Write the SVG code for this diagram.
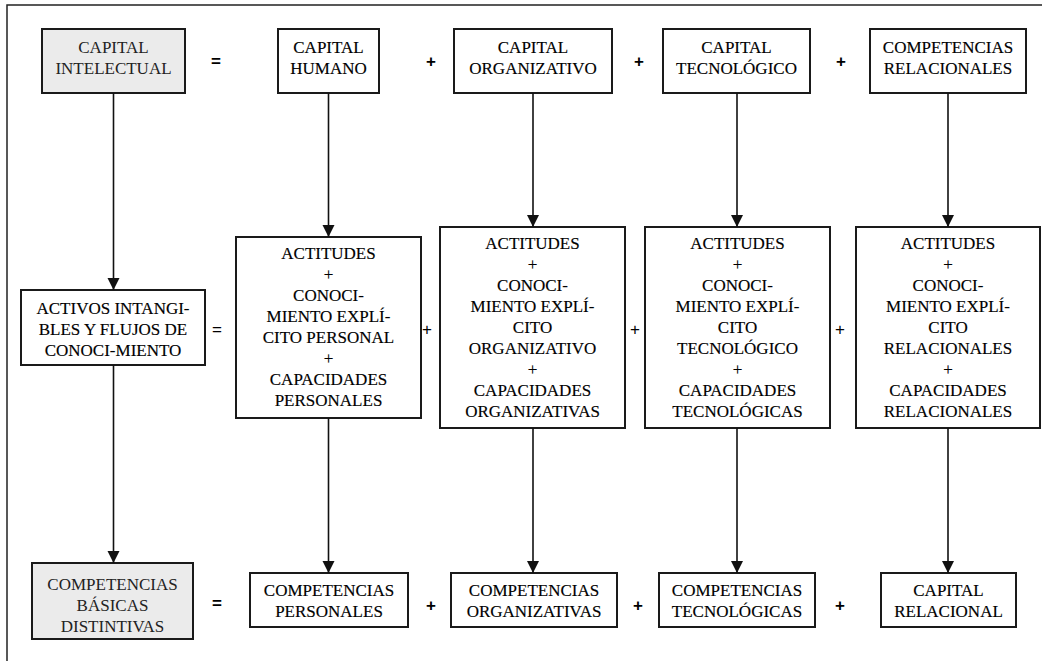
<svg xmlns="http://www.w3.org/2000/svg" width="1042" height="661" viewBox="0 0 1042 661">
  <style>
    .box { fill: #ffffff; stroke: #1a1a1a; stroke-width: 2; }
    .grey { fill: #ebebeb; }
    .lbl { font-family: "Liberation Serif", "Times New Roman", serif; font-size: 17px; fill: #000; stroke: #000; stroke-width: 0.15; text-anchor: middle; }
    .grey-lbl { fill: #222; stroke: none; }
    .op { font-family: "Liberation Sans", Arial, sans-serif; font-size: 17px; fill: #000; text-anchor: middle; }
    .op-b { font-weight: bold; }
    .wire { stroke: #111; stroke-width: 1.6; fill: none; }
    .frame { stroke: #222; stroke-width: 1.5; fill: none; }
  </style>
  <defs>
    <marker id="arrow" markerUnits="userSpaceOnUse" markerWidth="12" markerHeight="13" refX="12" refY="6" orient="auto">
      <path d="M0,0 L12,6 L0,12 Z" fill="#111"/>
    </marker>
  </defs>

  <rect width="1042" height="661" fill="#ffffff"/>
  <!-- open page frame: top and left edges only -->
  <path class="frame" d="M1042,5 H7 V661"/>

  <!-- top row -->
  <g id="capital-intelectual">
    <rect class="box grey" x="42" y="29" width="143" height="64"/>
    <text class="lbl grey-lbl" x="113.5" y="53">CAPITAL<tspan x="113.5" dy="21">INTELECTUAL</tspan></text>
  </g>
  <g id="capital-humano">
    <rect class="box" x="278" y="29" width="101" height="64"/>
    <text class="lbl" x="328.5" y="53">CAPITAL<tspan x="328.5" dy="21">HUMANO</tspan></text>
  </g>
  <g id="capital-organizativo">
    <rect class="box" x="454" y="29" width="158" height="64"/>
    <text class="lbl" x="533" y="53">CAPITAL<tspan x="533" dy="21">ORGANIZATIVO</tspan></text>
  </g>
  <g id="capital-tecnologico">
    <rect class="box" x="663" y="29" width="147" height="64"/>
    <text class="lbl" x="736.5" y="53">CAPITAL<tspan x="736.5" dy="21">TECNOLÓGICO</tspan></text>
  </g>
  <g id="competencias-relacionales">
    <rect class="box" x="870" y="29" width="156" height="64"/>
    <text class="lbl" x="948" y="53">COMPETENCIAS<tspan x="948" dy="21">RELACIONALES</tspan></text>
  </g>
  <g id="ops-top">
    <text class="op op-b" x="216" y="67">=</text>
    <text class="op op-b" x="431" y="67">+</text>
    <text class="op op-b" x="639" y="67">+</text>
    <text class="op op-b" x="841" y="67">+</text>
  </g>

  <!-- middle row -->
  <g id="activos-intangibles">
    <rect class="box" x="21" y="290" width="184" height="75"/>
    <text class="lbl" x="113" y="314">ACTIVOS INTANGI-<tspan x="113" dy="21">BLES Y FLUJOS DE</tspan><tspan x="113" dy="21">CONOCI-MIENTO</tspan></text>
  </g>
  <g id="flujo-personal">
    <rect class="box" x="236" y="237" width="185" height="181"/>
    <text class="lbl" x="328.5" y="259">ACTITUDES<tspan x="328.5" dy="21">+</tspan><tspan x="328.5" dy="21">CONOCI-</tspan><tspan x="328.5" dy="21">MIENTO EXPLÍ-</tspan><tspan x="328.5" dy="21">CITO PERSONAL</tspan><tspan x="328.5" dy="21">+</tspan><tspan x="328.5" dy="21">CAPACIDADES</tspan><tspan x="328.5" dy="21">PERSONALES</tspan></text>
  </g>
  <g id="flujo-organizativo">
    <rect class="box" x="440" y="227" width="185" height="201"/>
    <text class="lbl" x="532.5" y="249">ACTITUDES<tspan x="532.5" dy="21">+</tspan><tspan x="532.5" dy="21">CONOCI-</tspan><tspan x="532.5" dy="21">MIENTO EXPLÍ-</tspan><tspan x="532.5" dy="21">CITO</tspan><tspan x="532.5" dy="21">ORGANIZATIVO</tspan><tspan x="532.5" dy="21">+</tspan><tspan x="532.5" dy="21">CAPACIDADES</tspan><tspan x="532.5" dy="21">ORGANIZATIVAS</tspan></text>
  </g>
  <g id="flujo-tecnologico">
    <rect class="box" x="645" y="227" width="185" height="201"/>
    <text class="lbl" x="737.5" y="249">ACTITUDES<tspan x="737.5" dy="21">+</tspan><tspan x="737.5" dy="21">CONOCI-</tspan><tspan x="737.5" dy="21">MIENTO EXPLÍ-</tspan><tspan x="737.5" dy="21">CITO</tspan><tspan x="737.5" dy="21">TECNOLÓGICO</tspan><tspan x="737.5" dy="21">+</tspan><tspan x="737.5" dy="21">CAPACIDADES</tspan><tspan x="737.5" dy="21">TECNOLÓGICAS</tspan></text>
  </g>
  <g id="flujo-relacional">
    <rect class="box" x="856" y="227" width="184" height="201"/>
    <text class="lbl" x="948" y="249">ACTITUDES<tspan x="948" dy="21">+</tspan><tspan x="948" dy="21">CONOCI-</tspan><tspan x="948" dy="21">MIENTO EXPLÍ-</tspan><tspan x="948" dy="21">CITO</tspan><tspan x="948" dy="21">RELACIONALES</tspan><tspan x="948" dy="21">+</tspan><tspan x="948" dy="21">CAPACIDADES</tspan><tspan x="948" dy="21">RELACIONALES</tspan></text>
  </g>
  <g id="ops-middle">
    <text class="op" x="217" y="335">=</text>
    <text class="op" x="427" y="335">+</text>
    <text class="op" x="635" y="335">+</text>
    <text class="op" x="840" y="335">+</text>
  </g>

  <!-- bottom row -->
  <g id="competencias-basicas">
    <rect class="box grey" x="32" y="563" width="161" height="76"/>
    <text class="lbl grey-lbl" x="112.5" y="590">COMPETENCIAS<tspan x="112.5" dy="21">BÁSICAS</tspan><tspan x="112.5" dy="21">DISTINTIVAS</tspan></text>
  </g>
  <g id="competencias-personales">
    <rect class="box" x="250" y="573" width="158" height="54"/>
    <text class="lbl" x="329" y="596">COMPETENCIAS<tspan x="329" dy="21">PERSONALES</tspan></text>
  </g>
  <g id="competencias-organizativas">
    <rect class="box" x="451" y="573" width="166" height="54"/>
    <text class="lbl" x="534" y="596">COMPETENCIAS<tspan x="534" dy="21">ORGANIZATIVAS</tspan></text>
  </g>
  <g id="competencias-tecnologicas">
    <rect class="box" x="659" y="573" width="156" height="54"/>
    <text class="lbl" x="737" y="596">COMPETENCIAS<tspan x="737" dy="21">TECNOLÓGICAS</tspan></text>
  </g>
  <g id="capital-relacional">
    <rect class="box" x="881" y="573" width="135" height="54"/>
    <text class="lbl" x="948.5" y="596">CAPITAL<tspan x="948.5" dy="21">RELACIONAL</tspan></text>
  </g>
  <g id="ops-bottom">
    <text class="op op-b" x="217" y="609">=</text>
    <text class="op op-b" x="431" y="611">+</text>
    <text class="op op-b" x="638" y="611">+</text>
    <text class="op op-b" x="840" y="611">+</text>
  </g>

  <!-- connectors -->
  <g id="connectors">
    <line class="wire" x1="113.5" y1="93" x2="113.5" y2="290" marker-end="url(#arrow)"/>
    <line class="wire" x1="328.5" y1="93" x2="328.5" y2="237" marker-end="url(#arrow)"/>
    <line class="wire" x1="533" y1="93" x2="533" y2="227" marker-end="url(#arrow)"/>
    <line class="wire" x1="737" y1="93" x2="737" y2="227" marker-end="url(#arrow)"/>
    <line class="wire" x1="948" y1="93" x2="948" y2="227" marker-end="url(#arrow)"/>
    <line class="wire" x1="113.5" y1="365" x2="113.5" y2="563" marker-end="url(#arrow)"/>
    <line class="wire" x1="328.5" y1="418" x2="328.5" y2="573" marker-end="url(#arrow)"/>
    <line class="wire" x1="533" y1="428" x2="533" y2="573" marker-end="url(#arrow)"/>
    <line class="wire" x1="737" y1="428" x2="737" y2="573" marker-end="url(#arrow)"/>
    <line class="wire" x1="948" y1="428" x2="948" y2="573" marker-end="url(#arrow)"/>
  </g>
</svg>
